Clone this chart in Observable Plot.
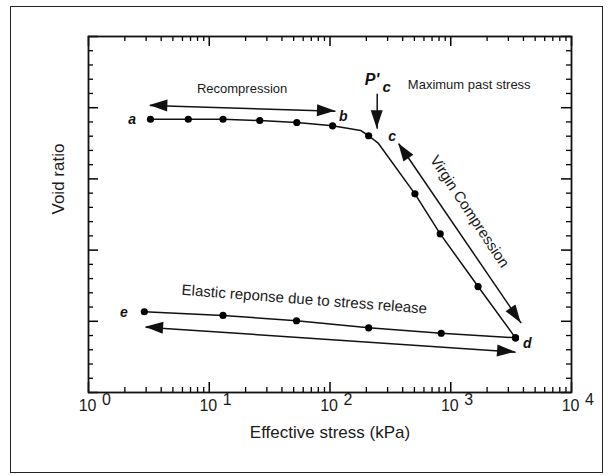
<!DOCTYPE html>
<html>
<head>
<meta charset="utf-8">
<script src="https://cdn.jsdelivr.net/npm/d3@7"></script>
<script src="https://cdn.jsdelivr.net/npm/@observablehq/plot@0.6"></script>
<style>
  body { margin: 0; background: #fff; }
  #wrap { position: relative; width: 611px; height: 475px; overflow: hidden; }
  #border { position: absolute; left: 10px; top: 6px; width: 593px; height: 467px;
            border: 1.5px solid #222; box-sizing: border-box; pointer-events: none; }
  svg { font-family: "Liberation Sans", Arial, sans-serif; }
</style>
</head>
<body>
<div id="wrap"><div id="border"></div></div>
<script>
// ---------- data ----------
// loading curve a -> b -> c -> d (line vertices, including bends)
const loadStress = [3.26, 6.7, 13.0, 26.2, 53.1, 105, 179, 209, 252, 505, 818, 1684, 3437];
const loadRatio  = [1.919, 1.919, 1.919, 1.910, 1.896, 1.873, 1.840, 1.803, 1.749, 1.395, 1.114, 0.744, 0.384];
// measured points on the loading curve
const loadDotStress = [3.26, 6.7, 13.0, 26.2, 53.1, 105, 209, 505, 818, 1684, 3437];
const loadDotRatio  = [1.919, 1.919, 1.919, 1.910, 1.896, 1.873, 1.803, 1.395, 1.114, 0.744, 0.384];
// unloading d -> e
const unloadStress = [2.9, 13.0, 52.8, 209, 834, 3437];
const unloadRatio  = [0.567, 0.541, 0.504, 0.454, 0.416, 0.384];

// point letters
const pointNames  = ["a", "b", "c", "d", "e"];
const pointStress = [2.30, 128.6, 327, 4297, 1.96];
const pointRatio  = [1.915, 1.940, 1.800, 0.346, 0.564];

// arrows
const arrowNames = ["recompression", "pc", "virgin", "elastic"];
const arrowX1 = [3.22, 246, 371, 2.97];
const arrowY1 = [2.015, 2.098, 1.747, 0.459];
const arrowX2 = [111, 246, 3830, 3440];
const arrowY2 = [1.975, 1.852, 0.487, 0.283];
const arrowBoth = [true, false, true, true];

// annotations
const noteTexts  = ["Recompression", "Maximum past stress", "Elastic reponse due to stress release", "Virgin Compression"];
const noteStress = [18.7, 441, 61.3, 1430];
const noteRatio  = [2.133, 2.163, 0.654, 1.271];

// x tick labels
const decades   = [1, 10, 100, 1000, 10000];
const exponents = ["0", "1", "2", "3", "4"];
const xTitle = "Effective stress (kPa)";
const yTitle = "Void ratio";

// ---------- layout ----------
const W = 611, H = 475, mL = 88, mR = 40, mT = 36, mB = 83;
const innerW = W - mL - mR, innerH = H - mT - mB;

const loadLine = loadStress.map((x, i) => ({x, y: loadRatio[i]}));
const unloadLine = unloadStress.map((x, i) => ({x, y: unloadRatio[i]}));
const dots = loadDotStress.map((x, i) => ({x, y: loadDotRatio[i]}))
  .concat(unloadStress.map((x, i) => ({x, y: unloadRatio[i]})));
const letters = pointNames.map((t, i) => ({t, x: pointStress[i], y: pointRatio[i]}));
const arrows = arrowNames.map((n, i) => ({n, x1: arrowX1[i], y1: arrowY1[i], x2: arrowX2[i], y2: arrowY2[i], both: arrowBoth[i]}));
const notes = noteTexts.map((t, i) => ({t, x: noteStress[i], y: noteRatio[i]}));

const xTicks = d3.scaleLog().domain([1, 1e4]).ticks();
const xMajor = xTicks.filter(d => Math.abs(Math.log10(d) - Math.round(Math.log10(d))) < 1e-9);
const xMinor = xTicks.filter(d => !xMajor.includes(d));
const yTicks = d3.ticks(0, 2.5, 25);
const yMajor = yTicks.filter(d => Math.abs(d * 2 - Math.round(d * 2)) < 1e-9);
const yMinor = yTicks.filter(d => !yMajor.includes(d));

const font = "Liberation Sans, Arial, sans-serif";
const ink = "#111";
const txt = "#1a1a1a";

const chart = Plot.plot({
  width: W, height: H,
  marginLeft: mL, marginRight: mR, marginTop: mT, marginBottom: mB,
  x: {type: "log", domain: [1, 1e4], axis: null},
  y: {domain: [0, 2.5], axis: null},
  style: {fontFamily: font, background: "transparent"},
  marks: [
    // ticks (inward on all four sides)
    Plot.tickX(xMinor, {x: d => d, insetTop: innerH - 5, strokeWidth: 1.3}),
    Plot.tickX(xMajor, {x: d => d, insetTop: innerH - 10, strokeWidth: 1.5}),
    Plot.tickX(xMinor, {x: d => d, insetBottom: innerH - 5, strokeWidth: 1.3}),
    Plot.tickX(xMajor, {x: d => d, insetBottom: innerH - 10, strokeWidth: 1.5}),
    Plot.tickY(yMinor, {y: d => d, insetRight: innerW - 5, strokeWidth: 1.3}),
    Plot.tickY(yMajor, {y: d => d, insetRight: innerW - 10, strokeWidth: 1.5}),
    Plot.tickY(yMinor, {y: d => d, insetLeft: innerW - 5, strokeWidth: 1.3}),
    Plot.tickY(yMajor, {y: d => d, insetLeft: innerW - 10, strokeWidth: 1.5}),
    Plot.frame({stroke: ink, strokeWidth: 1.8}),
    // curves
    Plot.line(loadLine, {x: "x", y: "y", stroke: ink, strokeWidth: 1.5}),
    Plot.line(unloadLine, {x: "x", y: "y", stroke: ink, strokeWidth: 1.5}),
    Plot.dot(dots, {x: "x", y: "y", r: 3.6, fill: "#000", stroke: "none"}),
    // arrow shafts (heads added below, filled)
    Plot.link(arrows, {x1: "x1", y1: "y1", x2: "x2", y2: "y2", stroke: ink, strokeWidth: 1.5}),
    // point letters
    Plot.text(letters, {x: "x", y: "y", text: "t", fontSize: 14, fontStyle: "italic", fontWeight: "bold", fill: ink}),
    // P'c
    Plot.text(["P'"], {x: () => 223, y: () => 2.197, text: d => d, fontSize: 16, fontStyle: "italic", fontWeight: "bold", fill: ink}),
    Plot.text(["c"], {x: () => 294, y: () => 2.144, text: d => d, fontSize: 15, fontStyle: "italic", fontWeight: "bold", fill: ink}),
    // annotations
    Plot.text(notes.slice(0, 1), {x: "x", y: "y", text: "t", fontSize: 13, fill: txt}),
    Plot.text(notes.slice(1, 2), {x: "x", y: "y", text: "t", fontSize: 13, textAnchor: "start", fill: txt}),
    Plot.text(notes.slice(2, 3), {x: "x", y: "y", text: "t", fontSize: 15, rotate: 4.4, fill: txt}),
    Plot.text(notes.slice(3, 4), {x: "x", y: "y", text: "t", fontSize: 15, rotate: 56.5, fill: txt}),
    // x tick labels: 10 + superscript exponent
    Plot.text(decades, {x: d => d, frameAnchor: "bottom", dy: 18, dx: 8, textAnchor: "end", text: () => "10", fontSize: 16, fill: txt}),
    Plot.text(decades, {x: d => d, frameAnchor: "bottom", dy: 12, dx: 13.5, textAnchor: "start", text: (d, i) => exponents[i], fontSize: 16, fill: txt}),
    // axis titles
    Plot.text([xTitle], {frameAnchor: "bottom", dy: 45, text: d => d, fontSize: 17, fill: txt}),
    Plot.text([yTitle], {frameAnchor: "left", dx: -30, rotate: -90, text: d => d, fontSize: 17, fill: txt})
  ]
});

// filled triangular arrowheads, positioned with the plot's own scales
const sx = chart.scale("x"), sy = chart.scale("y");
const headLen = 18, headHalf = 6;
const heads = d3.select(chart).append("g").attr("fill", ink).attr("stroke", "none");
arrows.forEach(a => {
  const p1 = [sx.apply(a.x1), sy.apply(a.y1)];
  const p2 = [sx.apply(a.x2), sy.apply(a.y2)];
  const pairs = a.both ? [[p1, p2], [p2, p1]] : [[p1, p2]];
  pairs.forEach(([from, to]) => {
    const dx = to[0] - from[0], dy = to[1] - from[1];
    const len = Math.hypot(dx, dy), ux = dx / len, uy = dy / len;
    const bx = to[0] - ux * headLen, by = to[1] - uy * headLen;
    const pts = [[to[0], to[1]], [bx - uy * headHalf, by + ux * headHalf], [bx + uy * headHalf, by - ux * headHalf]];
    heads.append("path").attr("d", "M" + pts.map(p => p.join(",")).join("L") + "Z");
  });
});

document.getElementById("wrap").prepend(chart);
</script>
</body>
</html>
